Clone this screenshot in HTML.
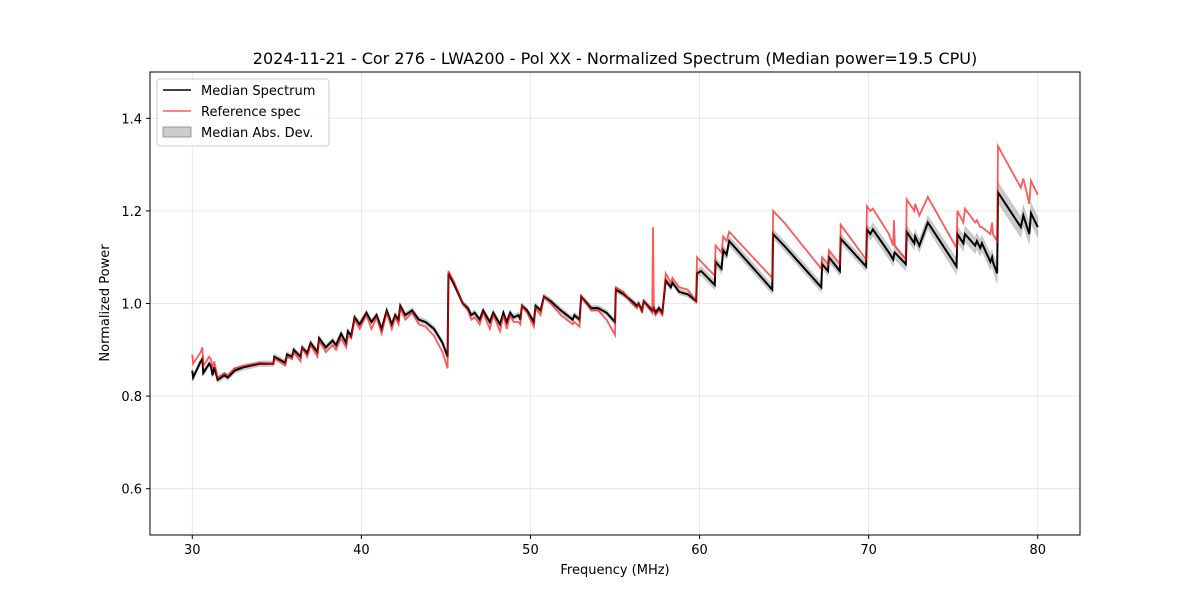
<!DOCTYPE html>
<html><head><meta charset="utf-8">
<style>
body{margin:0;background:#fff;}
svg text{font-family:"DejaVu Sans","Liberation Sans",sans-serif;fill:#000;}
</style></head>
<body>
<svg id="chart" width="1200" height="600" xmlns="http://www.w3.org/2000/svg">
<rect width="1200" height="600" fill="#fff"/>
<g id="grid"></g>
<g id="series"></g>
<rect x="150" y="72" width="930" height="463" fill="none" stroke="#000" stroke-width="1"/>
<g id="axes"></g>
<text x="615" y="64" font-size="16" text-anchor="middle">2024-11-21 - Cor 276 - LWA200 - Pol XX - Normalized Spectrum (Median power=19.5 CPU)</text>
<text x="615" y="574" font-size="13" text-anchor="middle">Frequency (MHz)</text>
<text transform="translate(109,303) rotate(-90)" font-size="13" text-anchor="middle">Normalized Power</text>
<g>
<rect x="157" y="79" width="172" height="67" rx="3" fill="#fff" fill-opacity="0.8" stroke="#ccc"/>
<line x1="163" y1="90" x2="191" y2="90" stroke="#000" stroke-width="1.5"/>
<text x="201" y="95" font-size="13">Median Spectrum</text>
<line x1="163" y1="111" x2="191" y2="111" stroke="#ff5a5a" stroke-width="1.5"/>
<text x="201" y="116" font-size="13">Reference spec</text>
<rect x="163" y="127" width="28" height="10" fill="#000" fill-opacity="0.2" stroke="#888" stroke-width="0.8"/>
<text x="201" y="137" font-size="13">Median Abs. Dev.</text>
</g>
</svg>
<script>
const freqs=[30.0,30.05,30.5,30.6,30.65,31.0,31.1,31.2,31.3,31.5,31.9,32.1,32.5,33.0,34.0,34.8,34.85,35.5,35.6,35.9,36.0,36.4,36.5,36.8,37.0,37.4,37.5,37.9,38.3,38.5,38.8,39.1,39.2,39.4,39.6,39.9,40.3,40.6,40.9,41.2,41.5,41.8,42.0,42.2,42.3,42.6,43.0,43.4,43.8,44.3,44.8,45.1,45.15,45.5,46.0,46.3,46.5,46.7,47.0,47.2,47.6,47.8,48.2,48.4,48.6,48.8,49.0,49.3,49.4,49.5,49.8,50.2,50.3,50.6,50.8,51.2,51.8,52.5,52.6,52.9,53.0,53.6,54.0,54.5,55.0,55.05,55.5,56.0,56.3,56.4,56.6,56.7,57.2,57.25,57.3,57.4,57.6,57.8,58.0,58.3,58.4,58.8,59.3,59.8,59.85,60.1,60.9,60.95,61.3,61.4,61.6,61.75,64.3,64.35,65.0,67.2,67.25,67.6,67.65,68.3,68.35,69.85,69.9,70.1,70.25,71.2,71.45,71.5,71.55,72.2,72.25,72.7,72.75,73.0,73.5,75.2,75.25,75.6,75.7,76.3,76.4,76.6,76.7,77.2,77.3,77.35,77.6,77.65,79.0,79.15,79.5,79.6,80.0];
const median=[.855,.84,.875,.88,.85,.87,.865,.845,.862,.835,.845,.84,.855,.862,.87,.87,.885,.872,.89,.885,.9,.885,.905,.893,.915,.895,.925,.905,.92,.91,.935,.915,.94,.93,.97,.955,.98,.96,.975,.945,.985,.955,.975,.965,.995,.975,.985,.965,.96,.945,.915,.885,1.065,1.04,1.0,.99,.975,.98,.965,.985,.96,.98,.955,.98,.96,.98,.97,.975,.965,.995,.985,.96,.995,.985,1.015,1.005,.985,.965,.975,.965,1.015,.99,.99,.98,.96,1.03,1.02,1.005,.995,1.0,.985,1.005,.985,.985,.99,.98,.99,.98,1.05,1.035,1.045,1.025,1.02,1.005,1.065,1.07,1.04,1.09,1.075,1.115,1.105,1.135,1.03,1.15,1.125,1.035,1.085,1.07,1.10,1.07,1.14,1.08,1.16,1.15,1.16,1.11,1.095,1.105,1.11,1.085,1.155,1.13,1.145,1.125,1.175,1.08,1.15,1.13,1.15,1.125,1.135,1.12,1.13,1.09,1.10,1.09,1.065,1.24,1.165,1.19,1.15,1.195,1.165];
const reference=[.89,.87,.895,.905,.865,.885,.88,.86,.875,.84,.85,.845,.86,.865,.872,.87,.882,.866,.885,.88,.895,.875,.905,.885,.91,.885,.92,.895,.91,.9,.925,.905,.93,.925,.965,.945,.975,.945,.97,.935,.98,.945,.97,.955,.99,.965,.98,.955,.95,.93,.895,.86,1.07,1.045,1.0,.985,.965,.97,.955,.98,.945,.975,.94,.975,.945,.975,.96,.96,.955,.995,.98,.95,.99,.975,1.015,1.0,.975,.955,.96,.95,1.015,.985,.985,.965,.932,1.035,1.025,1.0,.99,1.0,.98,1.005,.98,1.165,.985,.975,.985,.975,1.065,1.045,1.055,1.035,1.03,1.005,1.10,1.09,1.06,1.125,1.11,1.145,1.135,1.155,1.055,1.2,1.175,1.075,1.10,1.085,1.115,1.085,1.17,1.095,1.21,1.2,1.205,1.15,1.125,1.18,1.125,1.095,1.225,1.2,1.215,1.19,1.23,1.12,1.2,1.175,1.205,1.175,1.18,1.165,1.165,1.15,1.175,1.15,1.135,1.34,1.25,1.27,1.215,1.265,1.235];
const madBreaks=[30,45,60,70,75,77.6];
const madWidths=[0.006,0.006,0.01,0.014,0.017,0.022];
const xTicks=[30,40,50,60,70,80];
const yTicks=[0.6,0.8,1.0,1.2,1.4];

const X0=150,X1=1080,Y0=535,Y1=72,XMIN=27.5,XMAX=82.5,YMIN=0.5,YMAX=1.5;
const sx=f=>X0+(f-XMIN)/(XMAX-XMIN)*(X1-X0);
const sy=v=>Y0-(v-YMIN)/(YMAX-YMIN)*(Y0-Y1);
const NS="http://www.w3.org/2000/svg";
function mk(tag,attrs,parent){const e=document.createElementNS(NS,tag);for(const k in attrs)e.setAttribute(k,attrs[k]);parent.appendChild(e);return e;}
function madAt(f){let w=madWidths[0];for(let i=0;i<madBreaks.length;i++){if(f>=madBreaks[i])w=madWidths[i];}return w;}

const grid=document.getElementById('grid'),axes=document.getElementById('axes'),series=document.getElementById('series');
xTicks.forEach(t=>{
  const x=sx(t);
  const g=mk('line',{x1:x,x2:x,y1:Y1,y2:Y0,stroke:'#b0b0b0','stroke-opacity':0.35,'stroke-width':0.8},grid);
  
  
  const tk=mk('line',{x1:x,x2:x,y1:Y0,y2:Y0+4,stroke:'#000'},axes);
  
  
  const tx=mk('text',{x:x,y:Y0+19,'font-size':13,'text-anchor':'middle'},axes);
  tx.textContent=t;
  
  
});
yTicks.forEach(t=>{
  const y=sy(t);
  const g=mk('line',{x1:X0,x2:X1,y1:y,y2:y,stroke:'#b0b0b0','stroke-opacity':0.35,'stroke-width':0.8},grid);
  
  
  const tk=mk('line',{x1:X0-4,x2:X0,y1:y,y2:y,stroke:'#000'},axes);
  
  
  const tx=mk('text',{x:X0-8,y:y+5,'font-size':13,'text-anchor':'end'},axes);
  tx.textContent=t.toFixed(1);
  
  
});
let up=[],dn=[];
freqs.forEach((f,i)=>{const w=madAt(f);up.push(sx(f)+','+sy(median[i]+w));dn.push(sx(f)+','+sy(median[i]-w));});
const band=mk('polygon',{points:up.concat(dn.reverse()).join(' '),fill:'#000','fill-opacity':0.2,stroke:'#000','stroke-opacity':0.1},series);


const medLine=mk('polyline',{points:freqs.map((f,i)=>sx(f)+','+sy(median[i])).join(' '),fill:'none',stroke:'#000','stroke-width':2},series);


const refLine=mk('polyline',{points:freqs.map((f,i)=>sx(f)+','+sy(reference[i])).join(' '),fill:'none',stroke:'#ff0000','stroke-opacity':0.65,'stroke-width':1.8},series);


</script>
</body></html>
